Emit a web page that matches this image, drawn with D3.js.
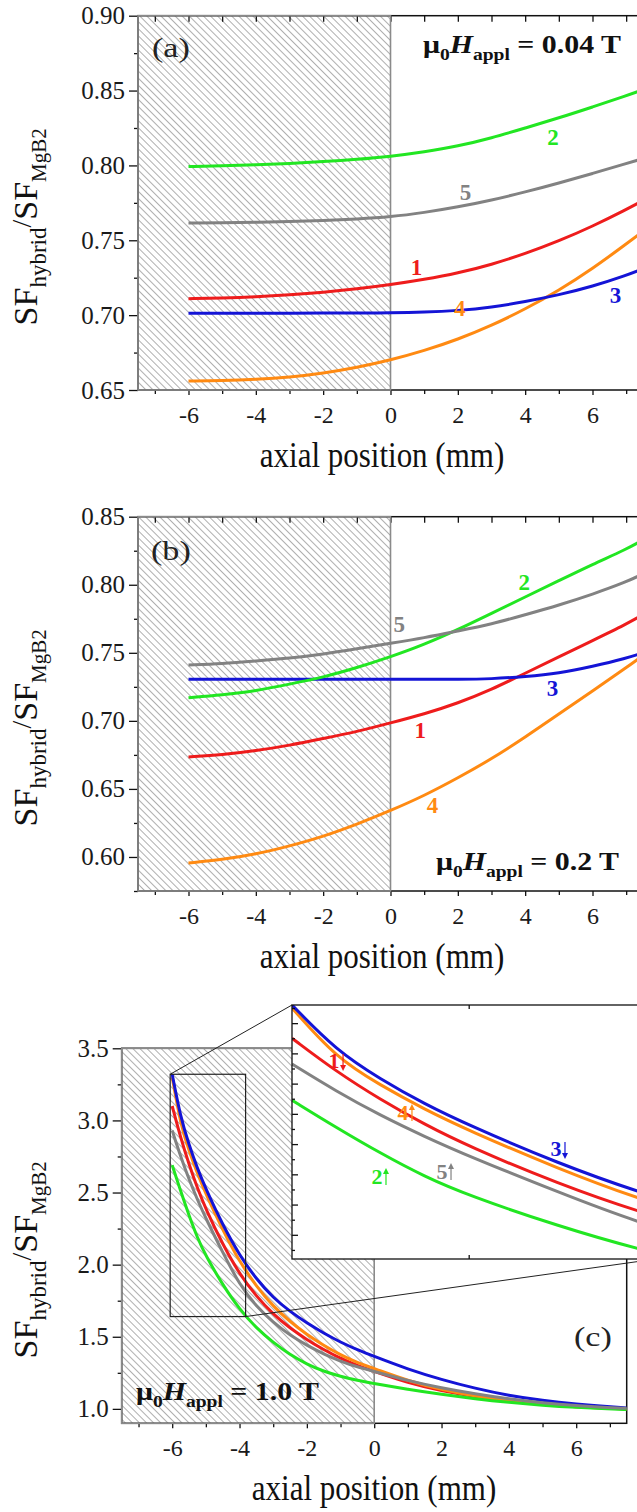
<!DOCTYPE html>
<html>
<head>
<meta charset="utf-8">
<script src="https://cdn.jsdelivr.net/npm/d3@7"></script>
<style>
body { margin: 0; background: #fff; }
svg text { font-family: "Liberation Serif", "Tinos", "Times New Roman", "DejaVu Serif", serif; }
</style>
</head>
<body>
<div id="chart"></div>
<script>
var width = 637, height = 1512;

// axial position grid (mm)
var xPos = [-6, -5, -4, -3, -2, -1, 0, 1, 2, 3, 4, 5, 6, 7, 7.5];
var xPosC = [-6, -5.75, -5.5, -5.25, -5, -4.5, -4, -3.5, -3, -2.5, -2, -1.5, -1, -0.5, 0, 1, 2, 3, 4, 5, 6, 7, 7.5];

var colors = {'1': '#ee1c1c', '2': '#22e622', '3': '#1414d6', '4': '#ff8a12', '5': '#828282'};
var drawOrder = ['1', '4', '3', '2', '5'];

// (a) mu0 H = 0.04 T
var a1 = [0.711, 0.7114, 0.7122, 0.7135, 0.7152, 0.7175, 0.7203, 0.7238, 0.728, 0.7338, 0.741, 0.7495, 0.7593, 0.7705, 0.7765];
var a2 = [0.7992, 0.7997, 0.8004, 0.8013, 0.8025, 0.804, 0.806, 0.809, 0.8128, 0.8183, 0.825, 0.8317, 0.839, 0.8465, 0.8505];
var a3 = [0.7012, 0.7012, 0.7013, 0.7013, 0.7014, 0.7014, 0.7015, 0.7019, 0.703, 0.7052, 0.709, 0.7135, 0.7192, 0.7265, 0.731];
var a4 = [0.656, 0.6562, 0.657, 0.6585, 0.6612, 0.665, 0.670, 0.6762, 0.6838, 0.693, 0.704, 0.7165, 0.731, 0.7475, 0.756];
var a5 = [0.7615, 0.7617, 0.762, 0.7625, 0.7632, 0.7642, 0.7656, 0.7685, 0.7722, 0.7768, 0.7822, 0.7882, 0.7946, 0.8012, 0.8046];

// (b) mu0 H = 0.2 T
var b1 = [0.6735, 0.675, 0.678, 0.682, 0.687, 0.692, 0.6985, 0.705, 0.713, 0.723, 0.735, 0.747, 0.759, 0.771, 0.778];
var b2 = [0.717, 0.719, 0.722, 0.727, 0.732, 0.739, 0.747, 0.756, 0.767, 0.779, 0.791, 0.803, 0.815, 0.826, 0.833];
var b3 = [0.7305, 0.7305, 0.7305, 0.7305, 0.7305, 0.7305, 0.7305, 0.7305, 0.7305, 0.7308, 0.7325, 0.735, 0.740, 0.746, 0.750];
var b4 = [0.5956, 0.598, 0.602, 0.608, 0.615, 0.624, 0.634, 0.645, 0.658, 0.672, 0.688, 0.705, 0.722, 0.739, 0.748];
var b5 = [0.741, 0.742, 0.744, 0.746, 0.749, 0.753, 0.757, 0.761, 0.766, 0.771, 0.778, 0.785, 0.793, 0.802, 0.808];

// (c) mu0 H = 1.0 T
var c1 = [3.10, 2.88, 2.695, 2.53, 2.385, 2.14, 1.935, 1.78, 1.655, 1.56, 1.48, 1.41, 1.35, 1.30, 1.26, 1.18, 1.125, 1.085, 1.054, 1.03, 1.014, 1.004, 1.0];
var c2 = [2.69, 2.51, 2.34, 2.185, 2.06, 1.86, 1.69, 1.56, 1.46, 1.375, 1.31, 1.26, 1.225, 1.197, 1.175, 1.135, 1.10, 1.07, 1.045, 1.025, 1.01, 1.0, 0.995];
var c3 = [3.32, 3.02, 2.83, 2.665, 2.525, 2.275, 2.065, 1.90, 1.77, 1.675, 1.595, 1.525, 1.462, 1.41, 1.364, 1.275, 1.203, 1.142, 1.092, 1.058, 1.033, 1.014, 1.006];
var c4 = [3.30, 2.97, 2.79, 2.63, 2.49, 2.24, 2.02, 1.85, 1.71, 1.605, 1.515, 1.44, 1.375, 1.32, 1.28, 1.195, 1.133, 1.088, 1.054, 1.03, 1.014, 1.004, 1.0];
var c5 = [2.93, 2.75, 2.59, 2.45, 2.32, 2.085, 1.86, 1.71, 1.60, 1.51, 1.44, 1.38, 1.33, 1.29, 1.26, 1.195, 1.145, 1.103, 1.068, 1.042, 1.022, 1.009, 1.004];

// tick values
var xMajor = [-6, -4, -2, 0, 2, 4, 6];
var xMinor = [-7, -5, -3, -1, 1, 3, 5, 7];
var xAll = [-7, -6, -5, -4, -3, -2, -1, 0, 1, 2, 3, 4, 5, 6, 7];
var yMajorA = [0.65, 0.70, 0.75, 0.80, 0.85, 0.90];
var yMinorA = [0.675, 0.725, 0.775, 0.825, 0.875];
var yMajorB = [0.60, 0.65, 0.70, 0.75, 0.80, 0.85];
var yMinorB = [0.575, 0.625, 0.675, 0.725, 0.775, 0.825];
var yMajorC = [1.0, 1.5, 2.0, 2.5, 3.0, 3.5];
var yMinorC = [1.25, 1.75, 2.25, 2.75, 3.25];
var yMajorInset = [1.8, 2.0, 2.2, 2.4, 2.6, 2.8, 3.0, 3.2];
var yMinorInset = [1.7, 1.9, 2.1, 2.3, 2.5, 2.7, 2.9, 3.1, 3.3];
var xInsetTicks = [-5, -4];

// curve labels [curve, x (mm), value]
var labelsA = [['2', 4.83, 0.8187], ['5', 2.23, 0.7822], ['1', 0.77, 0.7322], ['3', 6.68, 0.7133], ['4', 2.06, 0.7047]];
var labelsB = [['5', 0.26, 0.7711], ['2', 3.97, 0.8022], ['1', 0.88, 0.6932], ['3', 4.81, 0.724], ['4', 1.25, 0.638]];
// inset labels [curve, x (mm), value, arrow direction]
var labelsInset = [['1', -5.762, 2.956, 'down'], ['4', -5.372, 2.612, 'up'], ['3', -4.506, 2.374, 'down'], ['2', -5.519, 2.189, 'up'], ['5', -5.151, 2.222, 'up']];

var svg = d3.select('#chart').append('svg')
  .attr('width', width)
  .attr('height', height);
var defs = svg.append('defs');
defs.append('pattern')
  .attr('id', 'hatch')
  .attr('patternUnits', 'userSpaceOnUse')
  .attr('width', 8).attr('height', 5)
  .attr('patternTransform', 'rotate(45)')
  .append('line')
    .attr('x1', 0).attr('x2', 8).attr('y1', 2.5).attr('y2', 2.5)
    .attr('stroke', '#9a9a9a').attr('stroke-width', 0.8);

function styleAxis(g, size) {
  g.select('.domain').remove();
  g.selectAll('line').attr('stroke', '#111').attr('stroke-width', 1.3);
  g.attr('font-family', null).attr('font-size', size);
  g.selectAll('text').attr('fill', '#1a1a1a');
}

function fieldText(g, xx, yy, value) {
  var t = g.append('text')
    .attr('transform', 'translate(' + xx + ',' + yy + ') scale(1.15,1)')
    .attr('font-size', 26).attr('font-weight', 'bold').attr('fill', '#111');
  t.append('tspan').text('\u03bc');
  t.append('tspan').attr('dy', 7).attr('font-size', 17).text('0');
  t.append('tspan').attr('dy', -7).attr('font-style', 'italic').text('H');
  t.append('tspan').attr('dy', 7).attr('font-size', 17).text('appl');
  t.append('tspan').attr('dy', -7).text(' = ' + value + ' T');
}

function drawPanel(p) {
  var g = svg.append('g');
  var x = d3.scaleLinear().domain([-7.5, 7.5]).range([p.left, p.right]);
  var y = d3.scaleLinear().domain(p.yDomain).range([p.bottom, p.top]);

  defs.append('clipPath').attr('id', 'clip' + p.id)
    .append('rect')
      .attr('x', p.left).attr('y', p.top)
      .attr('width', p.right - p.left).attr('height', p.bottom - p.top);

  // hatched region (x < 0)
  g.append('rect')
    .attr('x', x(-7.5)).attr('y', p.top)
    .attr('width', x(0) - x(-7.5)).attr('height', p.bottom - p.top)
    .attr('fill', 'url(#hatch)');

  // frame
  g.append('rect')
    .attr('x', p.left).attr('y', p.top)
    .attr('width', p.right - p.left).attr('height', p.bottom - p.top)
    .attr('fill', 'none').attr('stroke', '#111').attr('stroke-width', 1.5);

  // axes
  g.append('g').attr('transform', 'translate(0,' + p.bottom + ')')
    .call(d3.axisBottom(x).tickValues(xMajor).tickSize(5).tickPadding(11)
      .tickFormat(function(d) {return String(d);}))
    .call(styleAxis, 24);
  g.append('g').attr('transform', 'translate(0,' + p.bottom + ')')
    .call(d3.axisBottom(x).tickValues(xMinor).tickSize(4).tickFormat(''))
    .call(styleAxis, 24);
  if (p.topTicks) {
    g.append('g').attr('transform', 'translate(0,' + p.top + ')')
      .call(d3.axisTop(x).tickValues(xAll).tickSize(-6).tickFormat(''))
      .call(styleAxis, 24);
  }
  g.append('g').attr('transform', 'translate(' + p.left + ',0)')
    .call(d3.axisLeft(y).tickValues(p.yMajor).tickSize(9).tickPadding(4)
      .tickFormat(d3.format(p.yFormat)))
    .call(styleAxis, 25);
  g.append('g').attr('transform', 'translate(' + p.left + ',0)')
    .call(d3.axisLeft(y).tickValues(p.yMinor).tickSize(4).tickFormat(''))
    .call(styleAxis, 25);

  // border of hatched region drawn over the frame
  g.append('rect')
    .attr('x', x(-7.5)).attr('y', p.top)
    .attr('width', x(0) - x(-7.5)).attr('height', p.bottom - p.top)
    .attr('fill', 'none').attr('stroke', '#8a8a8a').attr('stroke-width', 1.6);

  // curves
  var line = d3.line()
    .x(function(d) {return x(d[0]);})
    .y(function(d) {return y(d[1]);})
    .curve(d3.curveBasis);
  g.append('g').attr('clip-path', 'url(#clip' + p.id + ')')
    .selectAll('path')
    .data(drawOrder).enter()
    .append('path')
      .attr('d', function(k) {return line(d3.zip(p.xs, p.series[k]));})
      .attr('fill', 'none')
      .attr('stroke', function(k) {return colors[k];})
      .attr('stroke-width', 3);

  // curve numbers
  g.selectAll('.lbl')
    .data(p.labels || []).enter()
    .append('text')
      .attr('x', function(d) {return x(d[1]);})
      .attr('y', function(d) {return y(d[2]);})
      .attr('dy', '0.35em')
      .attr('text-anchor', 'middle')
      .attr('font-size', 23).attr('font-weight', 'bold')
      .attr('fill', function(d) {return colors[d[0]];})
      .text(function(d) {return d[0];});

  // y title
  var yt = g.append('text')
    .attr('transform', 'translate(' + p.titleX + ',' + ((p.top + p.bottom) / 2 + 24) + ') rotate(-90)')
    .attr('text-anchor', 'middle').attr('fill', '#111');
  yt.append('tspan').attr('font-size', 34).text('SF');
  yt.append('tspan').attr('font-size', 23).attr('dy', 9).text('hybrid');
  yt.append('tspan').attr('font-size', 28).attr('dy', -15).text('/');
  yt.append('tspan').attr('font-size', 34).attr('dy', 6).text('SF');
  yt.append('tspan').attr('font-size', 21).attr('dy', 9).text('MgB2');

  // x title
  g.append('text')
    .attr('transform', 'translate(' + p.xTitleX + ',' + (p.bottom + 77) + ') scale(1,1.15)')
    .attr('text-anchor', 'middle').attr('font-size', 31).attr('fill', '#111')
    .text('axial position (mm)');

  g.append('text')
    .attr('transform', 'translate(' + p.tag[1] + ',' + p.tag[2] + ') scale(1.22,1)')
    .attr('font-size', 28).attr('fill', '#222')
    .text(p.tag[0]);

  fieldText(g, p.field[1], p.field[2], p.field[0]);

  return {g: g, x: x, y: y};
}

drawPanel({
  id: 'a', top: 15.7, bottom: 390, left: 138, right: 643,
  yDomain: [0.65, 0.90], yMajor: yMajorA, yMinor: yMinorA, yFormat: '.2f',
  xs: xPos, series: {'1': a1, '2': a2, '3': a3, '4': a4, '5': a5},
  labels: labelsA, topTicks: true, titleX: 37, xTitleX: 382,
  tag: ['(a)', 152, 57], field: ['0.04', 423, 53]
});

drawPanel({
  id: 'b', top: 516.7, bottom: 891, left: 138, right: 643,
  yDomain: [0.575, 0.85], yMajor: yMajorB, yMinor: yMinorB, yFormat: '.2f',
  xs: xPos, series: {'1': b1, '2': b2, '3': b3, '4': b4, '5': b5},
  labels: labelsB, topTicks: true, titleX: 37, xTitleX: 382,
  tag: ['(b)', 151, 560], field: ['0.2', 436, 870]
});

var pc = drawPanel({
  id: 'c', top: 1048.3, bottom: 1423.3, left: 121.7, right: 626.7,
  yDomain: [0.9, 3.5], yMajor: yMajorC, yMinor: yMinorC, yFormat: '.1f',
  xs: xPosC, series: {'1': c1, '2': c2, '3': c3, '4': c4, '5': c5},
  labels: [], topTicks: false, titleX: 37, xTitleX: 374,
  tag: ['(c)', 574, 1346], field: ['1.0', 136, 1400]
});

// zoom box in panel (c) and its magnified inset
var boxX = [-6.06, -3.82], boxY = [1.64, 3.32];
var insetX = [-6.0, -3.94], insetY = [1.64, 3.32];
var inset = {left: 292, right: 656, top: 1005, bottom: 1259};
var xi = d3.scaleLinear().domain(insetX).range([inset.left, inset.right]);
var yi = d3.scaleLinear().domain(insetY).range([inset.bottom, inset.top]);
var gc = pc.g;

gc.append('rect')
  .attr('x', pc.x(boxX[0])).attr('y', pc.y(boxY[1]))
  .attr('width', pc.x(boxX[1]) - pc.x(boxX[0]))
  .attr('height', pc.y(boxY[0]) - pc.y(boxY[1]))
  .attr('fill', 'none').attr('stroke', '#222').attr('stroke-width', 1.2);
gc.append('line')
  .attr('x1', pc.x(boxX[0])).attr('y1', pc.y(boxY[1]))
  .attr('x2', inset.left).attr('y2', inset.top)
  .attr('stroke', '#222').attr('stroke-width', 1);
gc.append('line')
  .attr('x1', pc.x(boxX[1])).attr('y1', pc.y(boxY[0]))
  .attr('x2', inset.right).attr('y2', inset.bottom)
  .attr('stroke', '#222').attr('stroke-width', 1);

var gi = svg.append('g');
defs.append('clipPath').attr('id', 'clipInset')
  .append('rect')
    .attr('x', inset.left).attr('y', inset.top)
    .attr('width', inset.right - inset.left).attr('height', inset.bottom - inset.top);
gi.append('rect')
  .attr('x', inset.left).attr('y', inset.top)
  .attr('width', inset.right - inset.left).attr('height', inset.bottom - inset.top)
  .attr('fill', '#fff');

var lineI = d3.line()
  .x(function(d) {return xi(d[0]);})
  .y(function(d) {return yi(d[1]);})
  .curve(d3.curveBasis);
var seriesC = {'1': c1, '2': c2, '3': c3, '4': c4, '5': c5};
gi.append('g').attr('clip-path', 'url(#clipInset)')
  .selectAll('path')
  .data(drawOrder).enter()
  .append('path')
    .attr('d', function(k) {return lineI(d3.zip(xPosC, seriesC[k]));})
    .attr('fill', 'none')
    .attr('stroke', function(k) {return colors[k];})
    .attr('stroke-width', 3);

gi.append('g').attr('transform', 'translate(' + inset.left + ',0)')
  .call(d3.axisLeft(yi).tickValues(yMajorInset).tickSize(-6).tickFormat(''))
  .call(styleAxis, 10);
gi.append('g').attr('transform', 'translate(' + inset.left + ',0)')
  .call(d3.axisLeft(yi).tickValues(yMinorInset).tickSize(-3).tickFormat(''))
  .call(styleAxis, 10);
gi.append('g').attr('transform', 'translate(0,' + inset.top + ')')
  .call(d3.axisTop(xi).tickValues(xInsetTicks).tickSize(-4).tickFormat(''))
  .call(styleAxis, 10);
gi.append('g').attr('transform', 'translate(0,' + inset.bottom + ')')
  .call(d3.axisBottom(xi).tickValues(xInsetTicks).tickSize(-4).tickFormat(''))
  .call(styleAxis, 10);
gi.append('rect')
  .attr('x', inset.left).attr('y', inset.top)
  .attr('width', inset.right - inset.left).attr('height', inset.bottom - inset.top)
  .attr('fill', 'none').attr('stroke', '#111').attr('stroke-width', 1.3);

var il = gi.selectAll('.ilbl')
  .data(labelsInset).enter()
  .append('g')
    .attr('transform', function(d) {return 'translate(' + xi(d[1]) + ',' + yi(d[2]) + ')';});
il.append('text')
  .attr('dy', '0.35em').attr('text-anchor', 'middle')
  .attr('font-size', 22).attr('font-weight', 'bold')
  .attr('fill', function(d) {return colors[d[0]];})
  .text(function(d) {return d[0];});
il.append('line')
  .attr('x1', 9).attr('x2', 9)
  .attr('y1', function(d) {return d[3] == 'down' ? -6 : 9;})
  .attr('y2', function(d) {return d[3] == 'down' ? 6 : -3;})
  .attr('stroke', function(d) {return colors[d[0]];})
  .attr('stroke-width', 1.2);
il.append('path')
  .attr('d', function(d) {
    return d[3] == 'down' ? 'M6,5L12,5L9,11Z' : 'M6,-2L12,-2L9,-8Z';
  })
  .attr('fill', function(d) {return colors[d[0]];});
</script>
</body>
</html>
